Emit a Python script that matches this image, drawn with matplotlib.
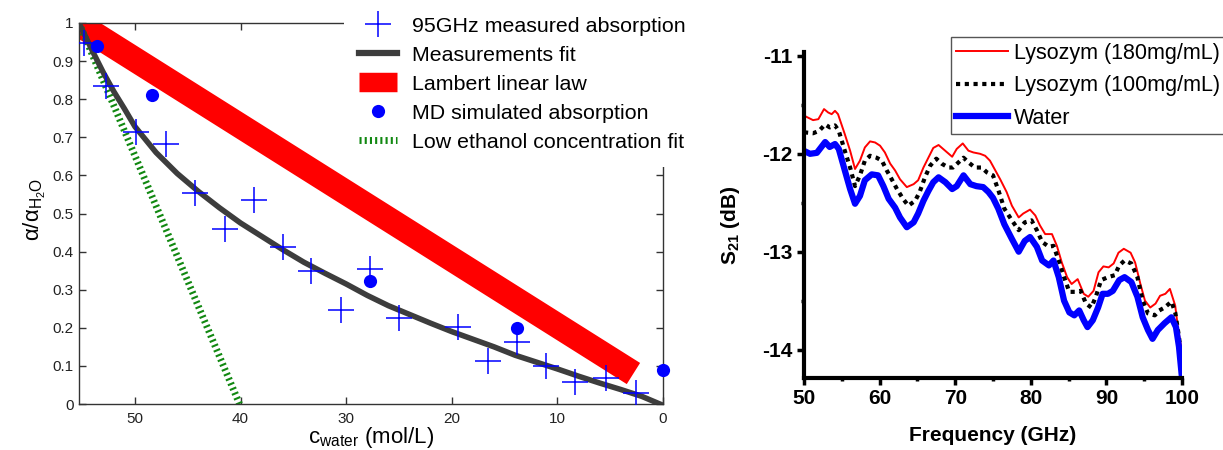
import numpy as np
import matplotlib
matplotlib.use("Agg")
import matplotlib.pyplot as plt

plt.rcParams['font.family'] = ['Liberation Sans', 'DejaVu Sans']
plt.rcParams['mathtext.fontset'] = 'custom'
plt.rcParams['mathtext.rm'] = 'Liberation Sans'
plt.rcParams['mathtext.it'] = 'Liberation Sans:italic'
plt.rcParams['mathtext.bf'] = 'Liberation Sans:bold'
plt.rcParams['axes.unicode_minus'] = False

# ---- left panel data ----
meas_c = [54.8, 52.7, 49.9, 47.1, 44.3, 41.5, 38.7, 36.0, 33.3, 30.5, 27.7, 25.0,
          19.4, 16.6, 13.8, 11.1, 8.3, 5.4, 2.6]
meas_a = [0.948, 0.835, 0.713, 0.683, 0.555, 0.459, 0.536, 0.411, 0.348, 0.248, 0.354, 0.226,
          0.201, 0.114, 0.164, 0.101, 0.058, 0.068, 0.029]

fit_c = [55.3, 54.0, 53.0, 52.0, 51.0, 50.0, 48.0, 46.0, 44.0, 42.0, 40.0, 38.0, 36.0,
         34.0, 32.0, 30.0, 28.0, 26.0, 24.0, 22.0, 20.0, 18.0, 16.0, 14.0, 12.0, 10.0,
         8.0, 6.0, 4.0, 2.0, 0.3]
fit_a = [1.0, 0.925, 0.87, 0.82, 0.775, 0.728, 0.66, 0.605, 0.558, 0.515, 0.475, 0.44,
         0.405, 0.372, 0.343, 0.315, 0.285, 0.258, 0.235, 0.212, 0.19, 0.17, 0.15, 0.128,
         0.11, 0.092, 0.073, 0.055, 0.038, 0.02, 0.0]

lambert_c = [55.5, 2.8]
lambert_a = [1.0, 0.08]

md_c = [53.6, 48.4, 27.7, 13.8, 0.0]
md_a = [0.939, 0.810, 0.322, 0.199, 0.090]

low_c = [55.3, 40.1]
low_a = [1.0, 0.0]

# ---- right panel data ----
f_red = [50.0, 51.2, 51.9, 52.65, 53.2, 53.66, 54.1, 54.5, 55.4, 56.1, 56.75, 57.4, 58.05,
         58.74, 59.4, 60.06, 60.7, 61.4, 62.05, 62.7, 63.6, 64.5, 65.1, 65.8, 66.45, 67.1,
         67.8, 68.4, 69.6, 70.2, 71.0, 71.75, 72.4, 73.3, 73.96, 74.6, 75.95, 76.8, 77.5,
         78.4, 79.0, 79.9, 80.6, 81.2, 81.9, 82.8, 83.45, 84.1, 84.8, 85.4, 86.2, 87.0, 87.6,
         88.3, 88.96, 89.6, 90.3, 90.96, 91.6, 92.3, 93.2, 93.8, 94.5, 95.1, 95.8, 96.5,
         97.1, 97.8, 98.4, 99.1, 99.5, 100.0]
s_red = [-11.61, -11.656, -11.646, -11.543, -11.578, -11.595, -11.561, -11.595, -11.80,
         -11.968, -12.155, -12.07, -11.935, -11.873, -11.884, -11.917, -11.986, -12.10,
         -12.17, -12.26, -12.34, -12.31, -12.27, -12.14, -12.04, -11.94, -11.91, -11.95,
         -12.03, -11.95, -11.894, -11.968, -11.986, -12.00, -12.02, -12.07, -12.26, -12.39,
         -12.53, -12.65, -12.61, -12.57, -12.63, -12.73, -12.82, -12.82, -12.94, -13.11,
         -13.26, -13.33, -13.28, -13.43, -13.46, -13.40, -13.21, -13.15, -13.16, -13.12,
         -13.01, -12.97, -13.01, -13.11, -13.33, -13.50, -13.57, -13.53, -13.45, -13.43,
         -13.38, -13.55, -13.80, -14.02]

f_mid = [50.0, 51.2, 52.0, 52.8, 53.4, 54.1, 54.6, 55.4, 56.1, 56.75, 57.4, 58.05, 58.74,
         59.6, 60.3, 60.95, 61.6, 62.3, 63.1, 63.8, 64.7, 65.3, 66.0, 66.7, 67.5, 68.2, 69.1,
         69.7, 70.4, 71.1, 71.8, 72.6, 73.5, 74.2, 75.0, 75.7, 76.5, 77.5, 78.4, 79.2, 80.1,
         80.8, 81.5, 82.4, 83.0, 83.7, 84.4, 85.1, 85.9, 86.6, 87.3, 88.0, 88.6, 89.3, 90.2,
         91.1, 91.7, 92.4, 93.3, 94.1, 94.8, 95.5, 96.4, 97.0, 97.7, 98.6, 99.1, 99.6, 100.0]
s_mid = [-11.78, -11.79, -11.765, -11.70, -11.73, -11.71, -11.765, -11.97, -12.14, -12.33,
         -12.22, -12.07, -12.02, -12.04, -12.07, -12.17, -12.26, -12.36, -12.46, -12.53,
         -12.48, -12.39, -12.24, -12.12, -12.05, -12.10, -12.14, -12.14, -12.09, -12.04,
         -12.09, -12.14, -12.14, -12.19, -12.22, -12.37, -12.56, -12.68, -12.78, -12.70,
         -12.68, -12.78, -12.90, -12.95, -12.94, -13.09, -13.26, -13.41, -13.41, -13.40,
         -13.53, -13.57, -13.46, -13.29, -13.26, -13.24, -13.14, -13.09, -13.12, -13.26,
         -13.50, -13.63, -13.65, -13.60, -13.57, -13.51, -13.62, -13.87, -14.14]

f_water = [50.0, 50.8, 51.7, 52.8, 53.4, 54.1, 54.6, 55.4, 56.1, 56.75, 57.4, 58.05, 58.96,
           59.8, 60.5, 61.2, 62.05, 62.7, 63.6, 64.5, 65.1, 65.8, 66.45, 67.1, 67.8, 68.7,
           69.6, 70.2, 71.1, 72.0, 72.8, 73.7, 74.4, 75.0, 75.7, 76.5, 77.5, 78.4, 79.2, 79.9,
           80.8, 81.5, 82.4, 83.0, 83.7, 84.4, 85.1, 85.75, 86.4, 87.0, 87.5, 88.2, 88.9, 89.5,
           90.2, 90.85, 91.7, 92.4, 93.3, 94.1, 94.8, 95.5, 96.1, 96.8, 97.7, 98.6, 99.2, 99.6,
           100.0]
s_water = [-11.97, -12.00, -11.99, -11.88, -11.93, -11.90, -11.95, -12.17, -12.36, -12.51,
           -12.43, -12.27, -12.21, -12.22, -12.33, -12.46, -12.55, -12.65, -12.75, -12.70,
           -12.61, -12.48, -12.38, -12.29, -12.24, -12.29, -12.36, -12.33, -12.22, -12.31,
           -12.33, -12.34, -12.39, -12.45, -12.56, -12.72, -12.87, -13.00, -12.89, -12.85,
           -12.95, -13.09, -13.14, -13.09, -13.26, -13.50, -13.62, -13.65, -13.60, -13.70,
           -13.77, -13.70, -13.57, -13.43, -13.43, -13.40, -13.29, -13.26, -13.31, -13.46,
           -13.67, -13.80, -13.89, -13.80, -13.73, -13.67, -13.77, -13.97, -14.29]

fig = plt.figure(figsize=(12.23, 4.5), dpi=100)

# ================= left panel =================
ax1 = fig.add_axes([79/1223, 46/450, 584/1223, 381/450])
ax1.plot(meas_c, meas_a, '+', color='#0000ff', ms=19, mew=1.1,
         label='95GHz measured absorption', zorder=4)
ax1.plot(fit_c, fit_a, '-', color='#3d3d3d', lw=4, label='Measurements fit', zorder=3)
ax1.plot(lambert_c, lambert_a, '-', color='#ff0000', lw=18, solid_capstyle='butt',
         label='Lambert linear law', zorder=2)
ax1.plot(md_c, md_a, 'o', color='#0000ff', ms=9.5, mec='none',
         label='MD simulated absorption', zorder=5, clip_on=False)
ax1.plot(low_c, low_a, color='#118811', lw=5, linestyle=(0, (0.3, 0.45)),
         label='Low ethanol concentration fit', zorder=2)

ax1.set_xlim(55.3, 0)
ax1.set_ylim(0, 1)
ax1.set_xticks([50, 40, 30, 20, 10, 0])
ax1.set_yticks(np.arange(0, 1.01, 0.1))
ax1.set_yticklabels(['0', '0.1', '0.2', '0.3', '0.4', '0.5', '0.6', '0.7', '0.8', '0.9', '1'])
ax1.tick_params(direction='in', length=5, width=1, color='#333333', labelsize=11,
                labelcolor='#222222', top=True, right=True, pad=4)
ax1.tick_params(axis='x', pad=6)
for s in ax1.spines.values():
    s.set_color('#333333')
    s.set_linewidth(1)

ax1.set_xlabel(r'c$_{\mathrm{water}}$ (mol/L)', fontsize=16, labelpad=-1)
ax1.set_ylabel(r'α/α$_{\mathrm{H_2O}}$', fontsize=16)
ax1.yaxis.set_label_coords(-0.053, 0.51)

leg1 = ax1.legend(loc='upper left', bbox_to_anchor=(344/1223, 0.996),
                  bbox_transform=fig.transFigure, fontsize=15.4, frameon=True,
                  facecolor='white', edgecolor='none', framealpha=1, fancybox=False,
                  borderpad=0.7, borderaxespad=0, handlelength=1.8, handletextpad=0.7,
                  labelspacing=0.47)
leg1.set_zorder(10)
leg1.get_lines()[2].set_linewidth(14)
leg1.get_lines()[1].set_linewidth(4.5)

# ================= right panel =================
ax2 = fig.add_axes([804/1223, 72/450, 378/1223, 326/450])
ax2.plot(f_red, s_red, '-', color='#ff0000', lw=1.4, label='Lysozym (180mg/mL)')
ax2.plot(f_mid, s_mid, color='black', lw=3, linestyle=(0, (1, 1.1)),
         label='Lysozym (100mg/mL)')
ax2.plot(f_water, s_water, '-', color='#0000ff', lw=4.5, label='Water')

ax2.set_xlim(50, 100)
ax2.set_ylim(-14.29, -10.96)
ax2.set_xticks([50, 60, 70, 80, 90, 100])
ax2.set_xticks([55, 65, 75, 85, 95], minor=True)
ax2.set_yticks([-14, -13, -12, -11])
ax2.set_yticks([-13.5, -12.5, -11.5], minor=True)
ax2.spines['top'].set_visible(False)
ax2.spines['right'].set_visible(False)
for side in ['left', 'bottom']:
    ax2.spines[side].set_linewidth(3)
ax2.tick_params(which='major', direction='out', length=5, width=2.5, labelsize=15, pad=3)
ax2.tick_params(which='minor', direction='out', length=2.5, width=2.5)
for lab in ax2.get_xticklabels() + ax2.get_yticklabels():
    lab.set_fontweight('bold')

ax2.set_xlabel('Frequency (GHz)', fontsize=15, fontweight='bold', labelpad=13)
ax2.set_ylabel(r'$\mathbf{S_{21}}$ (dB)', fontsize=15, fontweight='bold')
ax2.yaxis.set_label_coords(-0.164, 0.47)

leg2 = ax2.legend(loc='upper left', bbox_to_anchor=(950.7/1223, (450-37.3)/450),
                  bbox_transform=fig.transFigure, fontsize=15.5, frameon=True,
                  facecolor='white', edgecolor='#555555', framealpha=1, fancybox=False,
                  borderpad=0.25, borderaxespad=0, handlelength=2.4, handletextpad=0.3,
                  labelspacing=0.53)
leg2.get_frame().set_linewidth(1)

fig.savefig('out.png', dpi=100)
